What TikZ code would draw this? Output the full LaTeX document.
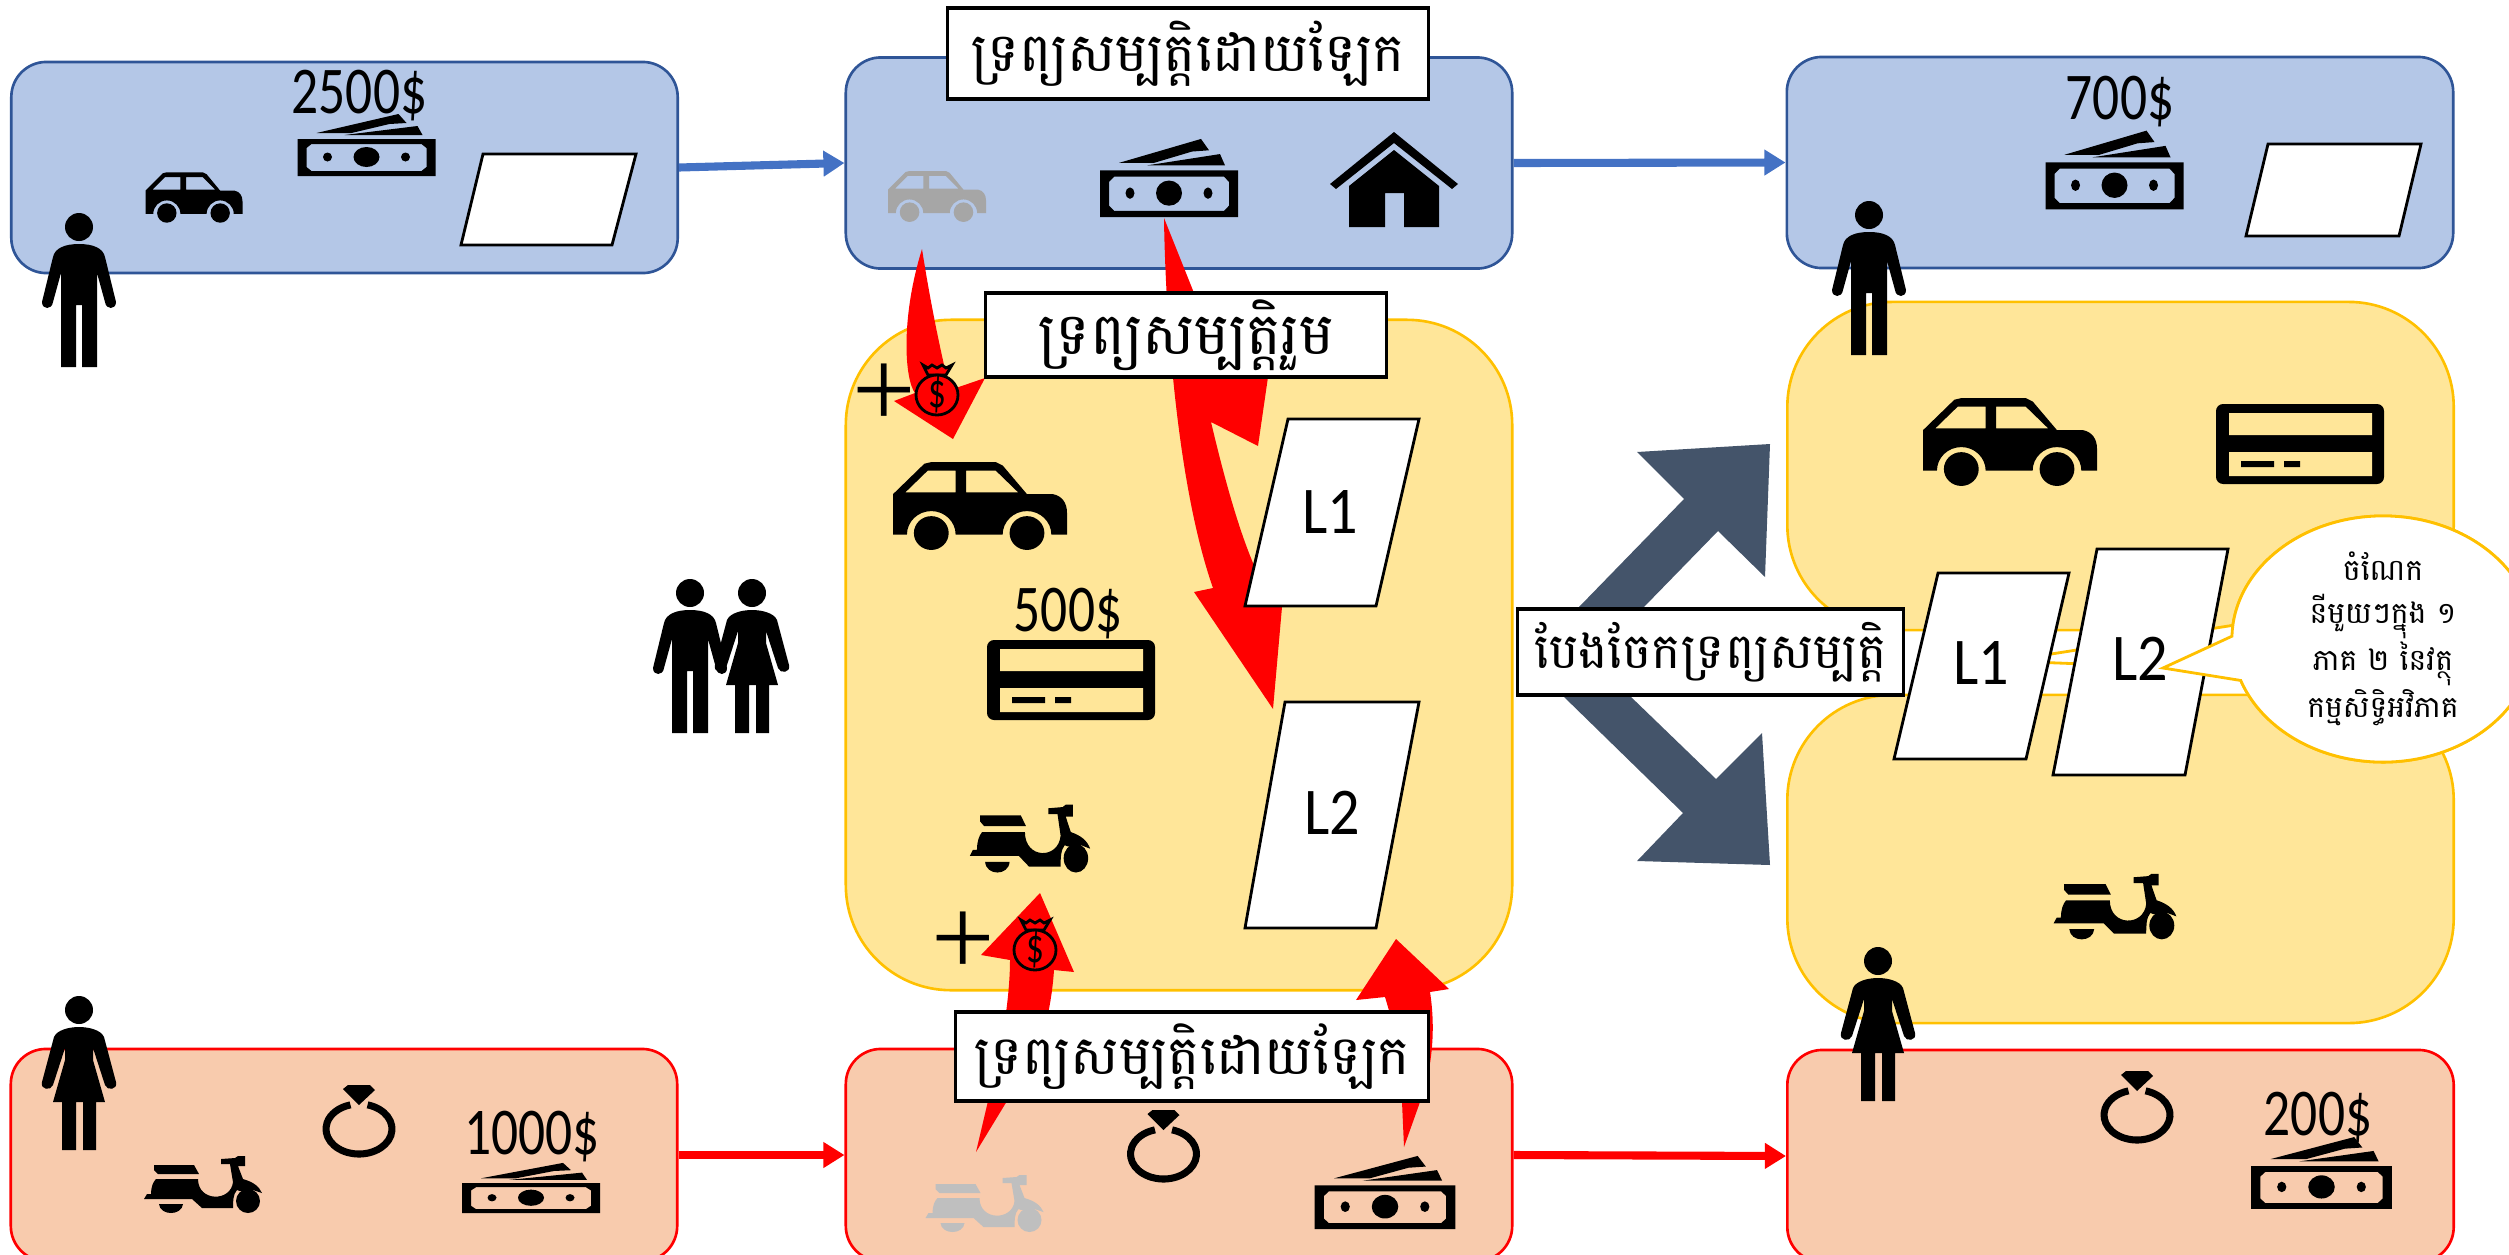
\documentclass[tikz,border=0pt]{standalone}
\usepackage{fontspec}
\usetikzlibrary{arrows.meta,shapes.callouts}
\newfontfamily\khmerfont[Script=Khmer]{Battambang}
\newfontfamily\latinfont{Carlito}
\newfontfamily\plusfont{Liberation Serif}
\definecolor{boxblue}{HTML}{B4C7E7}
\definecolor{lineblue}{HTML}{2F5597}
\definecolor{arrowblue}{HTML}{4472C4}
\definecolor{boxyellow}{HTML}{FFE699}
\definecolor{lineyellow}{HTML}{FFC000}
\definecolor{boxorange}{HTML}{F8CBAD}
\definecolor{slate}{HTML}{44546A}
\tikzset{
	husbandbox/.style={draw=lineblue,fill=boxblue,line width=.75pt,rounded corners=.35cm,minimum width=6.66cm,minimum height=2.11cm,inner sep=0pt},
	wifebox/.style={draw=red,fill=boxorange,line width=.75pt,rounded corners=.35cm,minimum width=6.66cm,minimum height=2.12cm,inner sep=0pt},
	jointbox/.style={draw=lineyellow,fill=boxyellow,line width=.75pt,rounded corners=1.05cm,minimum width=6.66cm,inner sep=0pt},
	titlebox/.style={draw,fill=white,line width=.9pt,inner sep=0pt},
	amount/.style={inner sep=0pt,font=\latinfont\fontsize{19}{22}\selectfont,xscale=.8,transform shape},
	lotname/.style={inner sep=0pt,font=\latinfont\fontsize{19}{22}\selectfont,xscale=.9,transform shape},
	plusmark/.style={inner sep=0pt,font=\plusfont\fontsize{32}{34}\selectfont},
	lot/.style={draw,fill=white,line width=.8pt},
	bluemove/.style={draw=arrowblue,line width=2.3pt,-{Triangle[length=6pt,width=7pt]}},
	redmove/.style={draw=red,line width=2.3pt,-{Triangle[length=6pt,width=7pt]}},
	share/.style={ellipse callout,draw=lineyellow,fill=white,line width=.8pt,minimum width=3.02cm,minimum height=2.46cm,inner sep=0pt,callout pointer arc=21},
	car/.pic={
		\fill[even odd rule] (-50,-17) -- (-50,7) -- (-32,25) -- (-28,26) -- (9,26) -- (13,24) -- (27,7) -- (42,7) .. controls (47,6) and (50,2) .. (50,-4) -- (50,-17) -- (41,-17) arc[start angle=0,end angle=180,radius=14] -- (-14,-17) arc[start angle=0,end angle=180,radius=14] -- cycle
			(-43,8) -- (-30,21) -- (-14,21) -- (-14,8) -- cycle
			(-8,21) -- (9,21) -- (22,8) -- (-8,8) -- cycle;
		\fill (-28,-16) circle (10) (27,-16) circle (10);
	},
	money/.pic={
		\fill[even odd rule] (-69,-31) rectangle (69,6)
			(-60,-22) -- (-60,-3) -- (-55,1) -- (55,1) -- (60,-3) -- (60,-22) -- (55,-26) -- (-55,-26) -- cycle;
		\fill (0,-12) circle[x radius=13,y radius=10];
		\fill (-39,-12) circle (4.5) (39,-12) circle (4.5);
		\fill (-50,12) -- (32,31) -- (40,22) -- (23,21) -- (-15,12) -- cycle;
		\fill (-22,10) -- (51,19) -- (56,10) -- cycle;
	},
	home/.pic={
		\fill (0,47) -- (64,-5) -- (58,-10) -- (0,36) -- (-58,-10) -- (-64,-5) -- cycle;
		\fill (0,29) -- (45,-7) -- (45,-48) -- (10,-48) -- (10,-14) -- (-9,-14) -- (-9,-48) -- (-45,-48) -- (-45,-7) -- cycle;
	},
	ring/.pic={
		\draw[line width=2pt] (0,-8) ++(75:33 and 25) arc[start angle=75,end angle=-255,x radius=33,y radius=25];
		\fill (-16,32) -- (-11,36) -- (11,36) -- (16,31) -- (0,16) -- cycle;
	},
	man/.pic={
		\fill (0,63) circle (14);
		\fill (0,46) .. controls (14,46) and (24,42) .. (26,33) -- (37,-12) .. controls (37,-20) and (27,-20) .. (26,-12) -- (18,17) -- (18,-77) -- (3,-77) -- (3,-15) -- (-3,-15) -- (-3,-77) -- (-18,-77) -- (-18,17) -- (-26,-12) .. controls (-27,-20) and (-37,-20) .. (-37,-12) -- (-26,33) .. controls (-24,42) and (-14,46) .. (0,46) -- cycle;
	},
	woman/.pic={
		\fill (0,63) circle (14);
		\fill (0,46) .. controls (10,46) and (22,43) .. (25,36) -- (37,-9) .. controls (39,-17) and (28,-18) .. (26,-12) -- (14,25) -- (14,13) -- (26,-29) -- (17,-29) -- (17,-77) -- (4,-77) -- (4,-29) -- (-3,-29) -- (-3,-77) -- (-17,-77) -- (-17,-29) -- (-26,-29) -- (-14,13) -- (-14,25) -- (-26,-12) .. controls (-28,-18) and (-39,-17) .. (-37,-9) -- (-25,36) .. controls (-22,43) and (-10,46) .. (0,46) -- cycle;
	},
	scooter/.pic={
		\fill (-49,19) -- (-9,19) -- (-4,10) -- (-45,10) -- (-49,14) -- cycle;
		\fill (-47,5) -- (-5,5) .. controls (-5,-18) and (28,-18) .. (30,2) -- (27,20) -- (18,20) -- (18,25) -- (32,26) -- (35,28) -- (42,28) -- (42,18) -- (35,18) -- (40,5) .. controls (50,2) and (56,-2) .. (59,-9) -- (50,-6) .. controls (42,-9) and (36,-7) .. (34,-6) .. controls (30,-10) and (30,-18) .. (30,-24) -- (-1,-24) -- (-11,-15) -- (-59,-15) -- (-56,-10) -- (-52,-10) .. controls (-52,-3) and (-50,2) .. (-47,5) -- cycle;
		\fill (-44,-20) -- (-20,-20) .. controls (-21,-32) and (-43,-32) .. (-44,-20) -- cycle;
		\fill (45,-17) circle (12);
	},
	card/.pic={
		\fill[even odd rule,rounded corners=2pt] (-84,-40) rectangle (84,40);
		\fill[fill=boxyellow] (-71,9) rectangle (72,31) (-71,-32) rectangle (72,-8);
		\fill (-59,-23) rectangle (-26,-17) (-16,-23) rectangle (0,-17);
	},
	moneybag/.pic={
		\draw[fill=red,line width=.8pt] (-14,24) -- (-9,21) -- (-5,24) -- (0,21) -- (5,24) -- (9,21) -- (15,24) -- (9,14) -- (-9,14) -- cycle;
		\draw[fill=red,line width=.8pt] (0,-6) circle[x radius=21,y radius=20];
		\node[inner sep=0pt,font=\latinfont\fontsize{10}{12}\selectfont,yscale=1.4,transform shape] (dollar) at (0,-6) {\$};
	}
}
\begin{document}
\begin{tikzpicture}[x=.01cm,y=.01cm]
	\path[use as bounding box,clip] (0,0) rectangle (2509,-1254);
	% asset boxes
	\node[husbandbox] (hbefore) at (344.5,-167.5) {};
	\node[husbandbox] (hown) at (1179,-163) {};
	\node[husbandbox] (hafter) at (2120,-162.5) {};
	\node[wifebox] (wbefore) at (344,-1155) {};
	\node[wifebox] (wown) at (1179,-1155) {};
	\node[wifebox] (wafter) at (2120.5,-1156) {};
	\node[jointbox,minimum height=6.7cm] (joint) at (1179,-655) {};
	\node[jointbox,minimum height=3.28cm] (hpart) at (2120.5,-466) {};
	\node[jointbox,minimum height=3.28cm] (wpart) at (2120.5,-859) {};
	\draw[bluemove] (hbefore.east) -- (hown.west);
	\draw[bluemove] (hown.east) -- (hafter.west);
	\draw[redmove] (wbefore.east) -- (wown.west);
	\draw[redmove] (wown.east) -- (wafter.west);
	% red block arrows
	\fill[red] (922,-249) .. controls (900,-320) and (905,-380) .. (915,-393) -- (894,-401) -- (953,-439) -- (985,-378) -- (950,-390) .. controls (940,-350) and (930,-300) .. (922,-249) -- cycle;
	\fill[red] (1164,-218) .. controls (1165,-300) and (1175,-480) .. (1213,-588) -- (1194,-592) -- (1273,-709) -- (1282,-607) -- (1253,-563) .. controls (1235,-520) and (1220,-460) .. (1211,-422) -- (1258,-446) -- (1268,-377) -- (1194,-293) -- cycle;
	\fill[red] (976,-1152) -- (988,-1101) .. controls (1000,-1060) and (1010,-1000) .. (1010,-960) -- (981,-955) -- (1040,-893) -- (1074,-972) -- (1054,-970) .. controls (1050,-1030) and (1030,-1080) .. (1007,-1101) -- cycle;
	\fill[red] (1404,-1147) -- (1402,-1102) .. controls (1402,-1060) and (1395,-1030) .. (1385,-997) -- (1356,-1000) -- (1396,-939) -- (1449,-989) -- (1430,-992) .. controls (1436,-1030) and (1432,-1070) .. (1420,-1102) -- cycle;
	% split arrows
	\fill[slate] (1770,-444) -- (1637,-452) -- (1684,-499) -- (1578,-608) -- (1560,-640) -- (1643,-640) -- (1643,-608) -- (1718,-531) -- (1765,-577) -- cycle;
	\fill[slate] (1770,-865) -- (1637,-861) -- (1683,-813) -- (1562,-695) -- (1540,-670) -- (1629,-670) -- (1629,-695) -- (1716,-779) -- (1762,-733) -- cycle;
	% lots
	\draw[lot] (483,-154) -- (636,-154) -- (612,-245) -- (461,-245) -- cycle;
	\draw[lot] (2268,-144) -- (2421,-144) -- (2399,-236) -- (2246,-236) -- cycle;
	\draw[lot] (1288,-419) -- (1419,-419) -- (1376,-606) -- (1245,-606) -- cycle;
	\draw[lot] (1285,-702) -- (1419,-702) -- (1376,-928) -- (1245,-928) -- cycle;
	\node[share,callout absolute pointer={(2007,-661)}] (shareback) at (2383,-639) {};
	\draw[lot] (1938,-573) -- (2069,-573) -- (2026,-759) -- (1894,-759) -- cycle;
	\draw[lot] (2097,-549) -- (2228,-549) -- (2185,-775) -- (2053,-775) -- cycle;
	\node[lotname] (lotaa) at (1330,-512) {L1};
	\node[lotname] (lotab) at (1332,-813) {L2};
	\node[lotname] (lotba) at (1981,-663) {L1};
	\node[lotname] (lotbb) at (2140,-659) {L2};
	\node[share,callout absolute pointer={(2163,-668)},align=center,font=\khmerfont\fontsize{8.5}{12}\selectfont] (sharenote) at (2383,-639) {ចំណែក\\នីមួយៗក្នុង ១\\ភាគ ២ នៃវត្ថុ\\កម្មសិទ្ធិអវិភាគ};
	% titles
	\node[titlebox,minimum width=4.8cm,minimum height=.91cm,font=\khmerfont\fontsize{15.3}{18}\selectfont] (titleh) at (1188,-53.5) {ទ្រព្យសម្បត្តិដោយឡែក};
	\node[titlebox,minimum width=4cm,minimum height=.84cm,font=\khmerfont\fontsize{16.6}{18}\selectfont] (titlej) at (1186,-335) {ទ្រព្យសម្បត្តិរួម};
	\node[titlebox,minimum width=3.85cm,minimum height=.86cm,font=\khmerfont\fontsize{14}{18}\selectfont] (titles) at (1710.5,-652) {បែងចែកទ្រព្យសម្បត្តិ};
	\node[titlebox,minimum width=4.72cm,minimum height=.89cm,font=\khmerfont\fontsize{15.4}{18}\selectfont] (titlew) at (1192,-1056.5) {ទ្រព្យសម្បត្តិដោយឡែក};
	% amounts
	\node[amount] (sumha) at (359.5,-96) {2500\$};
	\node[amount] (sumhb) at (2120,-102) {700\$};
	\node[amount] (sumj) at (1068,-614) {500\$};
	\node[amount] (sumwa) at (532,-1137) {1000\$};
	\node[amount] (sumwb) at (2318,-1118) {200\$};
	\node[plusmark] (plusa) at (884,-396) {+};
	\node[plusmark] (plusb) at (963,-944) {+};
	% icons
	\pic[xscale=.97,yscale=.97] (cara) at (194,-197.5) {car};
	\pic[color=black!35,xscale=.98,yscale=.98] (carb) at (937,-196.5) {car};
	\pic[xscale=1.74,yscale=1.69] (carc) at (980,-506) {car};
	\pic[xscale=1.74,yscale=1.69] (card) at (2010,-442) {car};
	\pic (casha) at (366.5,-145) {money};
	\pic[yscale=1.26] (cashb) at (1169,-178) {money};
	\pic[yscale=1.27] (cashc) at (2114.5,-170) {money};
	\pic[yscale=.81] (cashd) at (531,-1188) {money};
	\pic[xscale=1.02,yscale=1.18] (cashe) at (1385,-1192.5) {money};
	\pic[xscale=1.02,yscale=1.16] (cashf) at (2321.5,-1173) {money};
	\pic (house) at (1394,-179) {home};
	\pic (ringa) at (359,-1121) {ring};
	\pic (ringb) at (1163.5,-1146) {ring};
	\pic (ringc) at (2137,-1107) {ring};
	\pic (mana) at (79,-290) {man};
	\pic (manb) at (1869,-278) {man};
	\pic (manc) at (690,-656) {man};
	\pic (womana) at (79,-1073) {woman};
	\pic (womanb) at (1878,-1024) {woman};
	\pic (womanc) at (752,-656) {woman};
	\pic (scoota) at (203,-1184) {scooter};
	\pic[color=black!25] (scootb) at (984.5,-1203) {scooter};
	\pic[xscale=1.02,yscale=1.19] (scootc) at (1030,-838) {scooter};
	\pic[xscale=1.04,yscale=1.15] (scootd) at (2115,-906) {scooter};
	\pic (carda) at (1071,-680) {card};
	\pic (cardb) at (2300,-444) {card};
	\pic (baga) at (937,-389) {moneybag};
	\pic (bagb) at (1035,-944) {moneybag};
\end{tikzpicture}
\end{document}
